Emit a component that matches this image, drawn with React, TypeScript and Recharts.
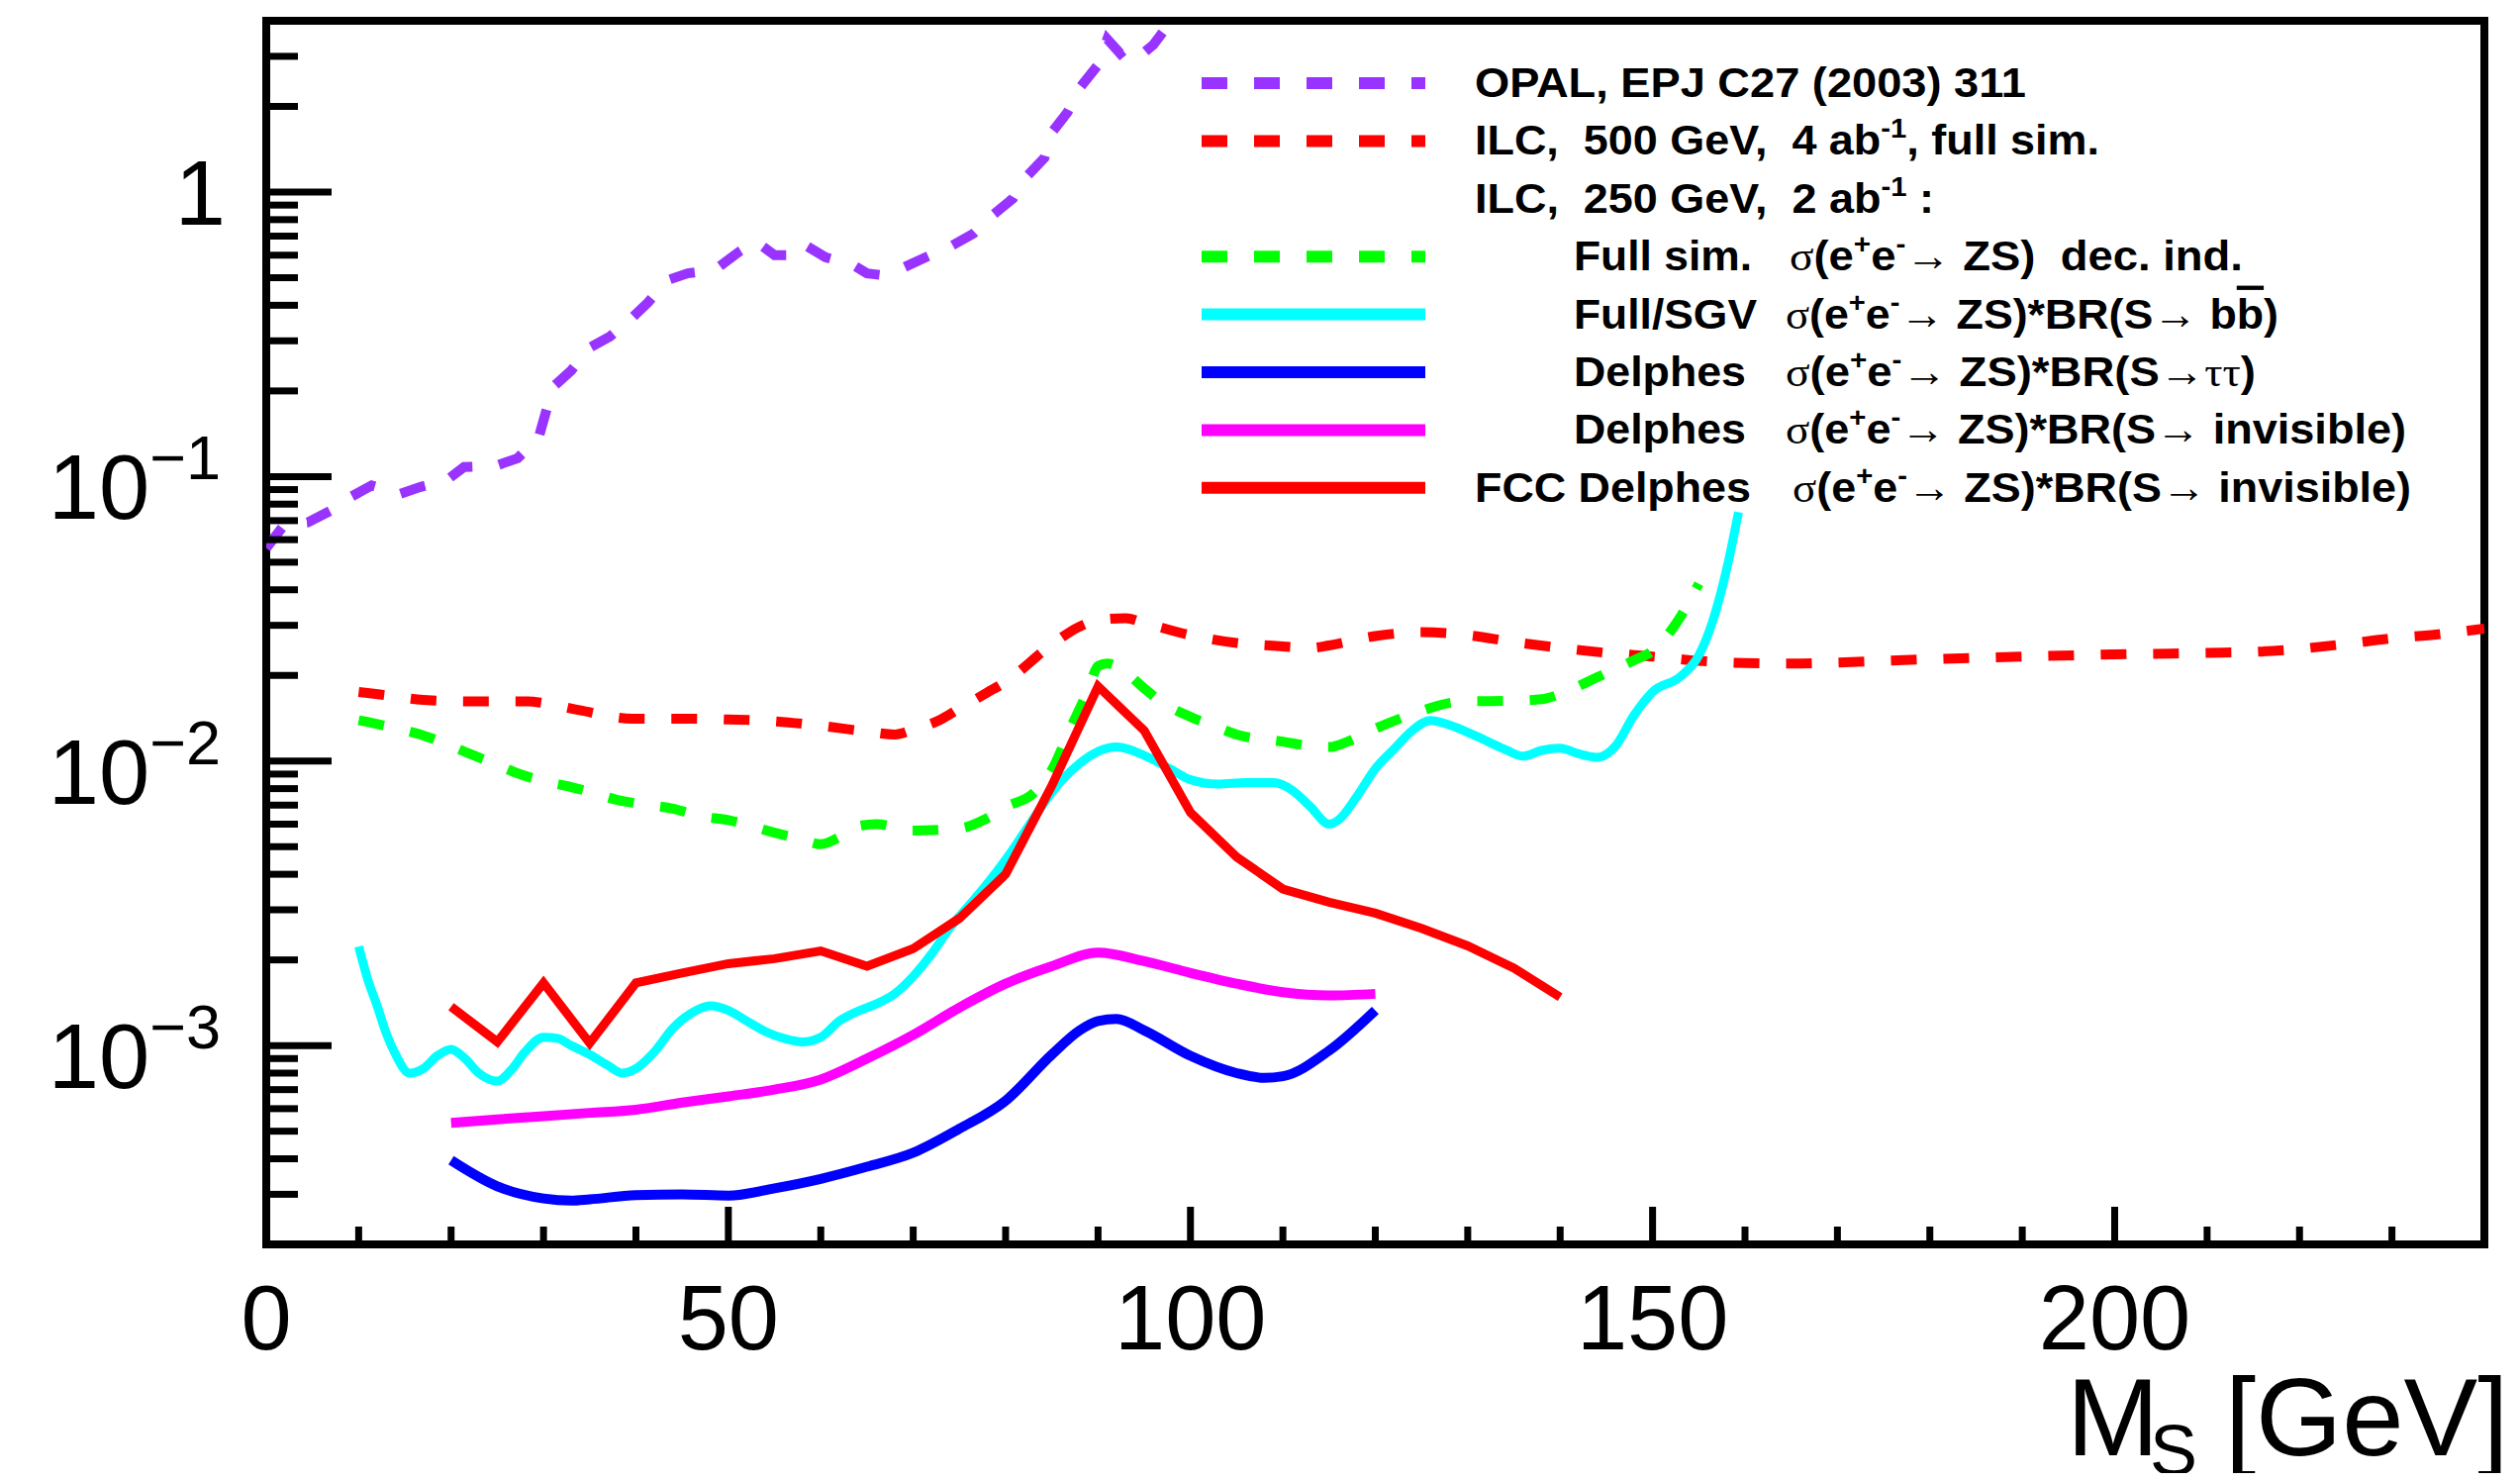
import React from 'react';
import { LineChart, Line, XAxis, YAxis, ReferenceArea } from 'recharts';

const FONT = '"Liberation Sans", Arial, Helvetica, sans-serif';
const SERIF = '"Liberation Serif", "DejaVu Serif", serif';

// ---------------- data ----------------
const opalX = [0, 2, 4.5, 7, 9.2, 11.4, 14.5, 16.7, 19.5, 21.4, 24.8, 27.2, 29.5, 30.2, 31, 33, 35, 37.2, 39.4, 41.3, 43.4, 45.6, 48.5, 51.2, 53, 55, 56.5, 58, 60.5, 63.5, 65, 66.5, 68.8, 71.5, 74, 76.5, 78.6, 80.8, 82, 84.2, 85, 86.7, 88, 90, 91, 92.4, 93.6, 95, 96, 97.8, 99];
const opalY = [0.056, 0.068, 0.069, 0.076, 0.085, 0.093, 0.087, 0.092, 0.097, 0.108, 0.109, 0.116, 0.138, 0.166, 0.206, 0.236, 0.284, 0.311, 0.357, 0.409, 0.49, 0.518, 0.532, 0.618, 0.67, 0.6, 0.6, 0.66, 0.59, 0.554, 0.518, 0.511, 0.54, 0.593, 0.643, 0.714, 0.83, 0.95, 1.11, 1.32, 1.62, 1.91, 2.32, 2.8, 3.45, 3.07, 3.3, 3.1, 3.3, 3.95, 4.5];

const ilc500X = [10, 12.5, 17, 22.6, 28.3, 30, 33.9, 39.6, 44.8, 50, 55, 60, 65, 68, 70, 73, 75, 78, 80, 85, 88, 90, 93, 95, 100, 105, 110, 113, 115, 120, 125, 130, 135, 140, 145, 150, 155, 160, 165, 170, 180, 190, 200, 210, 215, 220, 225, 230, 235, 240];
const ilc500Y = [0.0175, 0.0171, 0.0164, 0.0162, 0.0162, 0.016, 0.0151, 0.0141, 0.0141, 0.014, 0.0138, 0.0133, 0.0127, 0.0124, 0.0129, 0.014, 0.0153, 0.0174, 0.019, 0.0257, 0.0297, 0.0313, 0.0318, 0.0306, 0.0277, 0.026, 0.0253, 0.025, 0.0255, 0.0275, 0.0284, 0.0277, 0.0262, 0.025, 0.024, 0.0233, 0.0225, 0.0221, 0.022, 0.0222, 0.0228, 0.0233, 0.0237, 0.024, 0.0242, 0.0248, 0.0258, 0.027, 0.0279, 0.0292];

const fullX = [10, 12, 15, 17, 20, 22, 25, 27, 30, 33, 35, 38, 40, 44, 47, 50, 55, 58, 60, 62, 64, 66, 70, 75, 78, 80, 83, 85, 87, 89, 90, 91, 93, 95, 97, 100, 103, 105, 110, 113, 115, 117, 120, 125, 128, 130, 135, 138, 140, 143, 145, 148, 150, 152.5, 155];
const fullY = [0.0139, 0.0135, 0.0128, 0.0123, 0.0113, 0.0106, 0.0097, 0.0091, 0.0085, 0.0081, 0.0078, 0.0073, 0.0071, 0.0068, 0.0064, 0.0062, 0.0056, 0.0053, 0.0051, 0.0054, 0.0059, 0.006, 0.0057, 0.0058, 0.0063, 0.0069, 0.0077, 0.0093, 0.013, 0.018, 0.0216, 0.022, 0.0205, 0.018, 0.016, 0.0143, 0.0131, 0.0124, 0.0117, 0.0113, 0.0112, 0.0117, 0.013, 0.015, 0.016, 0.0162, 0.0163, 0.0165, 0.0172, 0.019, 0.0204, 0.0226, 0.0244, 0.0303, 0.042];

const bbX = [10, 11, 12, 13, 14, 15.5, 17, 18.5, 20, 21.5, 23, 25, 26.5, 28, 30, 31.5, 33, 35, 37, 38.5, 40, 42, 44, 46, 48, 50, 52, 54, 56, 58, 60, 62, 64, 66, 68, 70, 72, 74, 76, 78, 80, 82, 84, 86, 88, 90, 92, 94, 96, 98, 100, 103, 106, 109, 111, 113, 115, 116, 118, 120, 122, 124, 126, 128, 131, 134, 136, 138, 140, 142, 144, 146, 148, 150, 153, 155, 156.5, 158, 159.3];
const bbY = [0.00223, 0.0017, 0.00138, 0.0011, 0.00093, 0.0008, 0.00083, 0.00092, 0.00097, 0.0009, 0.0008, 0.00075, 0.00082, 0.00095, 0.00107, 0.00106, 0.001, 0.00093, 0.00085, 0.0008, 0.00083, 0.00095, 0.00115, 0.0013, 0.00138, 0.00133, 0.00122, 0.00112, 0.00106, 0.00103, 0.00107, 0.00122, 0.00132, 0.0014, 0.00152, 0.00175, 0.0021, 0.0026, 0.0031, 0.0037, 0.0045, 0.0056, 0.007, 0.0085, 0.0098, 0.0108, 0.0112, 0.0108, 0.0101, 0.0093, 0.0086, 0.0083, 0.0084, 0.0084, 0.0079, 0.0069, 0.006, 0.0062, 0.0075, 0.0094, 0.011, 0.0128, 0.0139, 0.0134, 0.0122, 0.011, 0.0104, 0.0109, 0.0111, 0.0106, 0.0103, 0.0113, 0.0145, 0.0175, 0.0198, 0.0235, 0.031, 0.047, 0.075];

const tautauX = [20, 25, 30, 33, 35, 40, 45, 50, 55, 60, 65, 70, 75, 80, 85, 88, 90, 92, 95, 100, 105, 108, 110, 115, 120];
const tautauY = [0.000395, 0.00032, 0.00029, 0.000285, 0.000288, 0.000298, 0.0003, 0.000297, 0.000315, 0.00034, 0.000375, 0.00042, 0.00051, 0.00064, 0.00093, 0.00113, 0.00122, 0.00124, 0.00113, 0.00092, 0.0008, 0.00077, 0.00078, 0.00096, 0.00133];

const invX = [20, 25, 30, 35, 40, 45, 50, 55, 60, 65, 70, 75, 80, 85, 90, 95, 100, 105, 110, 115, 120];
const invY = [0.000535, 0.00055, 0.000565, 0.00058, 0.000595, 0.00063, 0.000663, 0.0007, 0.00076, 0.0009, 0.00109, 0.00136, 0.00165, 0.0019, 0.00212, 0.00198, 0.0018, 0.00165, 0.00154, 0.0015, 0.00152];

const fccX = [20, 25, 30, 35, 40, 45, 50, 55, 60, 65, 70, 75, 80, 85, 90, 95, 100, 105, 110, 115, 120, 125, 130, 135, 140];
const fccY = [0.00137, 0.00103, 0.00166, 0.00102, 0.00166, 0.0018, 0.00194, 0.00202, 0.00215, 0.0019, 0.00219, 0.0028, 0.004, 0.0082, 0.0183, 0.0128, 0.0066, 0.0046, 0.00355, 0.00319, 0.00292, 0.00258, 0.00224, 0.00187, 0.00148];

const xTicks = [0, 10, 20, 30, 40, 50, 60, 70, 80, 90, 100, 110, 120, 130, 140, 150, 160, 170, 180, 190, 200, 210, 220, 230, 240];
const xMajor = [0, 50, 100, 150, 200];
const yTicks = [0.0002, 0.0003, 0.0004, 0.0005, 0.0006, 0.0007, 0.0008, 0.0009, 0.001, 0.002, 0.003, 0.004, 0.005, 0.006, 0.007, 0.008, 0.009, 0.01, 0.02, 0.03, 0.04, 0.05, 0.06, 0.07, 0.08, 0.09, 0.1, 0.2, 0.3, 0.4, 0.5, 0.6, 0.7, 0.8, 0.9, 1, 2, 3];
const yMajor = [0.001, 0.01, 0.1, 1];
const yExponent: Record<string, string> = { '0.001': '\u22123', '0.01': '\u22122', '0.1': '\u22121' };

const pts = (xs: number[], ys: number[]) => xs.map((x, i) => ({ x, y: ys[i] }));

const DASH = '26 27';
const C_OPAL = '#9933ff';
const C_RED = '#ff0000';
const C_GREEN = '#00ff00';
const C_CYAN = '#00ffff';
const C_BLUE = '#0000ff';
const C_MAG = '#ff00ff';

const W = 2530;
const H = 1480;

// ---------------- ticks ----------------
const BottomTick = (props: any) => {
  const { x, y, payload } = props;
  const v = payload.value;
  const major = xMajor.includes(v);
  return (
    <g>
      <line x1={x} x2={x} y1={y} y2={y - (major ? 38 : 18)} stroke="#000" strokeWidth={7} />
      {major && (
        <text x={x} y={y + 106} textAnchor="middle" fontSize={92} fontFamily={FONT} fill="#000">
          {v}
        </text>
      )}
    </g>
  );
};

const TopTick = (props: any) => {
  const { x, y, payload } = props;
  const major = xMajor.includes(payload.value);
  return <line x1={x} x2={x} y1={y} y2={y + (major ? 38 : 18)} stroke="#000" strokeWidth={7} />;
};

const LeftTick = (props: any) => {
  const { x, y, payload } = props;
  const v = payload.value;
  const major = yMajor.includes(v);
  const exp = yExponent[String(v)];
  return (
    <g>
      <line x1={x} x2={x + (major ? 66 : 32)} y1={y} y2={y} stroke="#000" strokeWidth={7} />
      {major && v === 1 && (
        <text x={x - 41} y={y + 33} textAnchor="end" fontSize={92} fontFamily={FONT} fill="#000">
          1
        </text>
      )}
      {major && exp && (
        <text x={x - 46} y={y + 43} textAnchor="end" fontSize={92} fontFamily={FONT} fill="#000">
          10
          <tspan dy={-40} fontSize={63}>
            {exp}
          </tspan>
        </text>
      )}
    </g>
  );
};

const RightTick = (props: any) => {
  const { x, y, payload } = props;
  const major = yMajor.includes(payload.value);
  return <line x1={x} x2={x - (major ? 66 : 32)} y1={y} y2={y} stroke="#000" strokeWidth={7} />;
};

// ---------------- legend ----------------
const LS = 43;
const SUP = 28;
const rowY = (i: number) => 90 + 58.4 * i;
const legendLines = [
  { color: C_OPAL, dash: true, row: 0 },
  { color: C_RED, dash: true, row: 1 },
  { color: C_GREEN, dash: true, row: 3 },
  { color: C_CYAN, dash: false, row: 4 },
  { color: C_BLUE, dash: false, row: 5 },
  { color: C_MAG, dash: false, row: 6 },
  { color: C_RED, dash: false, row: 7 },
];

const SigmaHead = () => (
  <>
    <tspan fontFamily={SERIF} fontWeight="normal">σ</tspan>
    <tspan>(e</tspan>
    <tspan dy={-17} fontSize={SUP}>+</tspan>
    <tspan dy={17}>e</tspan>
    <tspan dy={-17} fontSize={SUP}>-</tspan>
    <tspan dy={17} fontFamily={SERIF} fontWeight="normal">→</tspan>
    <tspan> ZS)</tspan>
  </>
);

const tStyle: React.CSSProperties = { whiteSpace: 'pre' };

const Overlay = () => (
  <svg
    width={W}
    height={1488}
    style={{ position: 'absolute', left: 0, top: 0, overflow: 'visible', pointerEvents: 'none' }}
  >
    {legendLines.map((l, i) => (
      <line
        key={i}
        x1={1206}
        x2={1432}
        y1={rowY(l.row) - 14}
        y2={rowY(l.row) - 14}
        stroke={l.color}
        strokeWidth={12}
        strokeDasharray={l.dash ? DASH : undefined}
      />
    ))}
    <g fontFamily={FONT} fontWeight="bold" fontSize={LS} fill="#000">
      <text x={1482} y={rowY(0)} textLength={557} lengthAdjust="spacingAndGlyphs" style={tStyle}>
        OPAL, EPJ C27 (2003) 311
      </text>
      <text x={1482} y={rowY(1)} textLength={631} lengthAdjust="spacingAndGlyphs" style={tStyle}>
        {'ILC,  500 GeV,  4 ab'}
        <tspan dy={-17} fontSize={SUP}>-1</tspan>
        <tspan dy={17}>, full sim.</tspan>
      </text>
      <text x={1482} y={rowY(2)} textLength={464} lengthAdjust="spacingAndGlyphs" style={tStyle}>
        {'ILC,  250 GeV,  2 ab'}
        <tspan dy={-17} fontSize={SUP}>-1</tspan>
        <tspan dy={17}> :</tspan>
      </text>

      <text x={1582} y={rowY(3)} textLength={180} lengthAdjust="spacingAndGlyphs" style={tStyle}>Full sim.</text>
      <text x={1800} y={rowY(3)} textLength={458} lengthAdjust="spacingAndGlyphs" style={tStyle}>
        <SigmaHead />
        <tspan>{'  dec. ind.'}</tspan>
      </text>

      <text x={1582} y={rowY(4)} textLength={185} lengthAdjust="spacingAndGlyphs" style={tStyle}>Full/SGV</text>
      <text x={1796} y={rowY(4)} textLength={498} lengthAdjust="spacingAndGlyphs" style={tStyle}>
        <SigmaHead />
        <tspan>*BR(S</tspan>
        <tspan fontFamily={SERIF} fontWeight="normal">→</tspan>
        <tspan> b</tspan>
        <tspan textDecoration="overline">b</tspan>
        <tspan>)</tspan>
      </text>

      <text x={1582} y={rowY(5)} textLength={174} lengthAdjust="spacingAndGlyphs" style={tStyle}>Delphes</text>
      <text x={1796} y={rowY(5)} textLength={475} lengthAdjust="spacingAndGlyphs" style={tStyle}>
        <SigmaHead />
        <tspan>*BR(S</tspan>
        <tspan fontFamily={SERIF} fontWeight="normal">→ττ</tspan>
        <tspan>)</tspan>
      </text>

      <text x={1582} y={rowY(6)} textLength={174} lengthAdjust="spacingAndGlyphs" style={tStyle}>Delphes</text>
      <text x={1796} y={rowY(6)} textLength={627} lengthAdjust="spacingAndGlyphs" style={tStyle}>
        <SigmaHead />
        <tspan>*BR(S</tspan>
        <tspan fontFamily={SERIF} fontWeight="normal">→</tspan>
        <tspan> invisible)</tspan>
      </text>

      <text x={1482} y={rowY(7)} textLength={279} lengthAdjust="spacingAndGlyphs" style={tStyle}>FCC Delphes</text>
      <text x={1803} y={rowY(7)} textLength={625} lengthAdjust="spacingAndGlyphs" style={tStyle}>
        <SigmaHead />
        <tspan>*BR(S</tspan>
        <tspan fontFamily={SERIF} fontWeight="normal">→</tspan>
        <tspan> invisible)</tspan>
      </text>
    </g>

    {/* x-axis title */}
    <text x={2080} y={1462} fontSize={112} fontFamily={FONT} fill="#000" style={tStyle}>
      M
      <tspan x={2164} dy={20} fontSize={72}>S</tspan>
      <tspan x={2240} dy={-20}>[GeV]</tspan>
    </text>
  </svg>
);

export default function App() {
  return (
    <div style={{ position: 'relative', width: W, height: H }}>
      <LineChart width={W} height={H} margin={{ top: 13, right: 28, left: 0, bottom: 0 }}>
        <XAxis
          xAxisId={0}
          dataKey="x"
          type="number"
          domain={[0, 240]}
          ticks={xTicks}
          interval={0}
          allowDataOverflow
          height={231}
          tickSize={0}
          tickMargin={0}
          axisLine={false}
          tickLine={false}
          tick={BottomTick}
        />
        <XAxis
          xAxisId="top"
          orientation="top"
          dataKey="x"
          type="number"
          domain={[0, 240]}
          ticks={xTicks}
          interval={0}
          allowDataOverflow
          height={0}
          tickSize={0}
          tickMargin={0}
          axisLine={false}
          tickLine={false}
          tick={TopTick}
        />
        <YAxis
          yAxisId={0}
          type="number"
          scale="log"
          domain={[0.0002, 4]}
          ticks={yTicks}
          interval={0}
          allowDataOverflow
          width={261}
          tickSize={0}
          tickMargin={0}
          axisLine={false}
          tickLine={false}
          tick={LeftTick}
        />
        <YAxis
          yAxisId="right"
          orientation="right"
          type="number"
          scale="log"
          domain={[0.0002, 4]}
          ticks={yTicks}
          interval={0}
          allowDataOverflow
          width={0}
          tickSize={0}
          tickMargin={0}
          axisLine={false}
          tickLine={false}
          tick={RightTick}
        />

        <Line data={pts(opalX, opalY)} dataKey="y" type="linear" stroke={C_OPAL} strokeWidth={10} strokeDasharray={DASH} dot={false} activeDot={false} isAnimationActive={false} />
        <Line data={pts(ilc500X, ilc500Y)} dataKey="y" type="monotone" stroke={C_RED} strokeWidth={10} strokeDasharray={DASH} dot={false} activeDot={false} isAnimationActive={false} />
        <Line data={pts(fullX, fullY)} dataKey="y" type="monotone" stroke={C_GREEN} strokeWidth={10} strokeDasharray={DASH} dot={false} activeDot={false} isAnimationActive={false} />
        <Line data={pts(bbX, bbY)} dataKey="y" type="monotone" stroke={C_CYAN} strokeWidth={9} dot={false} activeDot={false} isAnimationActive={false} />
        <Line data={pts(tautauX, tautauY)} dataKey="y" type="monotone" stroke={C_BLUE} strokeWidth={10} dot={false} activeDot={false} isAnimationActive={false} />
        <Line data={pts(invX, invY)} dataKey="y" type="monotone" stroke={C_MAG} strokeWidth={10} dot={false} activeDot={false} isAnimationActive={false} />
        <Line data={pts(fccX, fccY)} dataKey="y" type="linear" stroke={C_RED} strokeWidth={9} dot={false} activeDot={false} isAnimationActive={false} />

        <ReferenceArea x1={0} x2={240} y1={0.0002} y2={4} fill="none" stroke="#000" strokeWidth={8} ifOverflow="visible" />
      </LineChart>
      <Overlay />
    </div>
  );
}
